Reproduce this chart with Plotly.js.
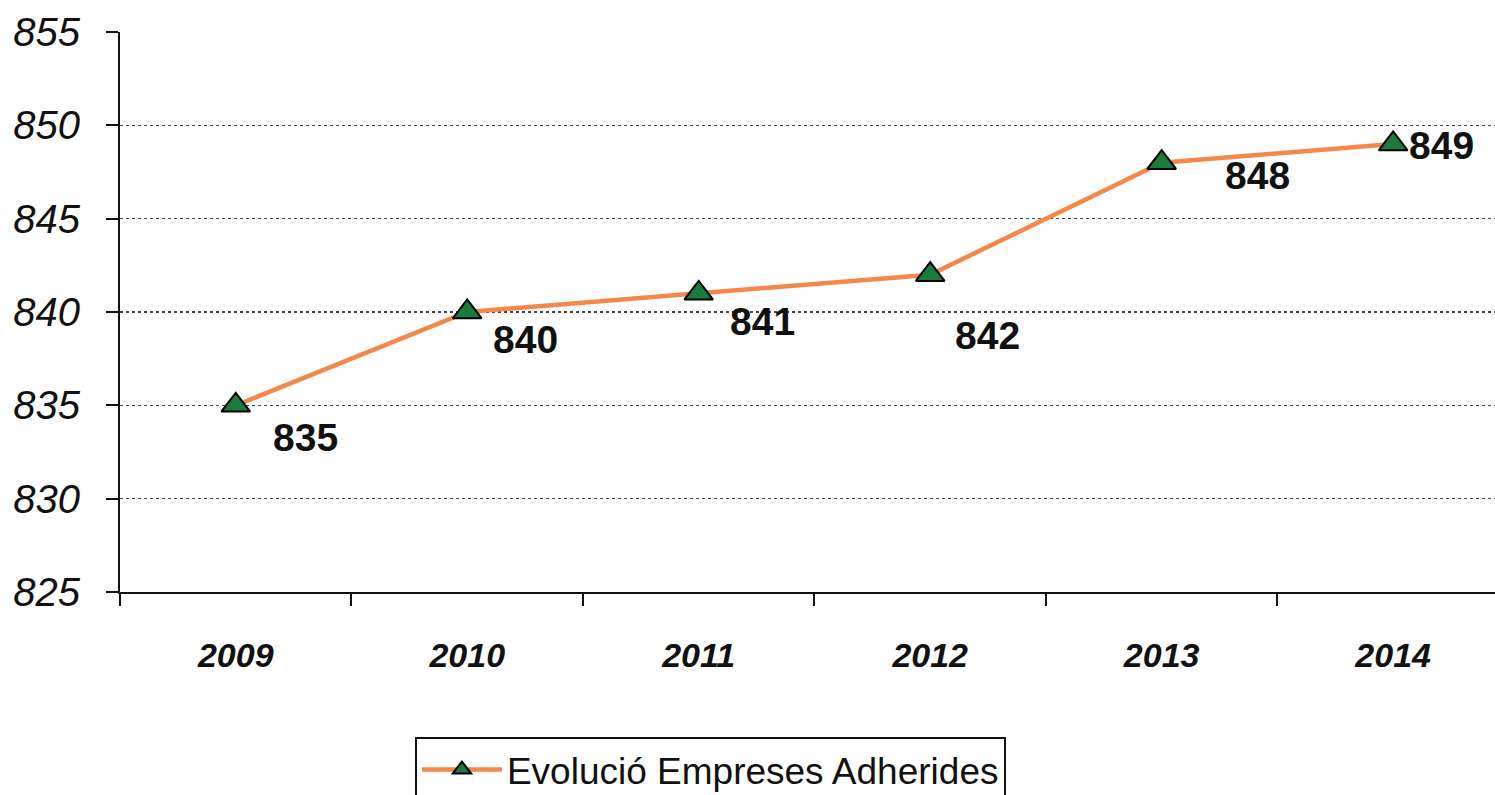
<!DOCTYPE html>
<html>
<head>
<meta charset="utf-8">
<script src="https://cdn.plot.ly/plotly-3.0.1.min.js"></script>
<style>
  body { margin: 0; background: #fff; }
  #chart { width: 1495px; height: 795px; }
</style>
</head>
<body>
<div id="chart"></div>
<script>
// chart data
var years = ["2009", "2010", "2011", "2012", "2013", "2014"];
var empreses = [835, 840, 841, 842, 848, 849];
var yTicks = [825, 830, 835, 840, 845, 850, 855];
var gridTicks = [830, 835, 840, 845, 850];
var seriesName = "Evolució Empreses Adherides";

// label offsets in pixels (style only)
var labelDx = [70, 58, 64, 57, 96, 48];
var labelDy = [-32, -27, -28, -61, -13, -1];

var sans = "Liberation Sans, Arial, sans-serif";

var trace = {
    x: years,
    y: empreses,
    name: seriesName,
    type: "scatter",
    mode: "lines+markers",
    line: {color: "#F4874A", width: 4.5},
    marker: {symbol: "triangle-up", size: 25, color: "#1C7A3C", line: {color: "#000", width: 2}},
    cliponaxis: false
};

// invisible trace to carry the grid axis
var gridTrace = {
    x: years,
    y: empreses,
    yaxis: "y2",
    mode: "none",
    showlegend: false,
    hoverinfo: "skip"
};

var annotations = [];
for (var i = 0; i < years.length; i++) {
    annotations.push({
        xref: "x",
        yref: "y",
        x: i,
        y: empreses[i],
        text: "<b>" + empreses[i] + "</b>",
        showarrow: false,
        xshift: labelDx[i],
        yshift: labelDy[i],
        font: {family: sans, size: 39, color: "#111"}
    });
}

var layout = {
    width: 1495,
    height: 795,
    margin: {l: 120, r: 0, t: 32, b: 203, autoexpand: false},
    paper_bgcolor: "#fff",
    plot_bgcolor: "rgba(0,0,0,0)",
    showlegend: true,
    legend: {
        orientation: "h",
        xref: "paper",
        x: 0.2145, xanchor: "left",
        yref: "container",
        y: 0.073, yanchor: "top",
        bordercolor: "#111",
        borderwidth: 2,
        bgcolor: "#fff",
        itemwidth: 80,
        font: {family: sans, size: 37, color: "#111"}
    },
    xaxis: {
        type: "category",
        range: [-0.5, 5.44],
        tickson: "boundaries",
        ticks: "outside",
        ticklen: 12,
        tickwidth: 2,
        tickcolor: "#111",
        showline: true,
        linecolor: "#111",
        linewidth: 2,
        showgrid: false,
        tickfont: {family: sans, size: 34, color: "#111", weight: "bold", style: "italic"},
        ticklabelstandoff: 32
    },
    yaxis: {
        range: [825, 855],
        tickvals: yTicks,
        ticktext: yTicks.map(String),
        ticks: "outside",
        ticklen: 12,
        tickwidth: 2,
        tickcolor: "#111",
        showline: true,
        linecolor: "#111",
        linewidth: 2,
        showgrid: false,
        zeroline: false,
        tickfont: {family: sans, size: 40, color: "#111", style: "italic"},
        ticklabelstandoff: 18
    },
    yaxis2: {
        overlaying: "y",
        range: [825, 855],
        tickvals: gridTicks,
        showticklabels: false,
        showgrid: true,
        gridcolor: "#444",
        gridwidth: 1.2,
        griddash: "dot",
        zeroline: false,
        showline: false
    },
    annotations: annotations
};

Plotly.newPlot("chart", [gridTrace, trace], layout, {staticPlot: true});
</script>
</body>
</html>
